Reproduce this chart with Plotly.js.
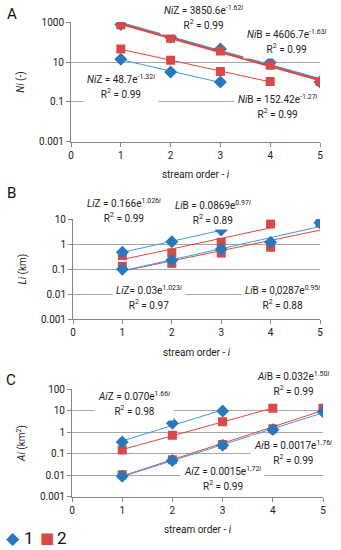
<!DOCTYPE html>
<html>
<head>
<meta charset="utf-8">
<script src="https://cdn.plot.ly/plotly-3.0.1.min.js"></script>
<style>html,body{margin:0;padding:0;background:#fff;}#chart{width:341px;height:550px;}</style>
</head>
<body>
<div id="chart"></div>
<script>
// ---- data ----
var orders = [1, 2, 3, 4, 5];

// Panel A: Ni (-)
var A_blueUpper = [780, 180, 45, 9.5, 1.0];
var A_redUpper  = [750, 160, 36, 7.0, 1.05];
var A_blueLower = [14, 3.2, 1.0];
var A_redLower  = [45, 12.5, 3.4, 1.05];

// Panel B: Li (km)
var B_blueUpper = [0.48, 1.26, 3.7];
var B_redUpper  = [0.35, 0.45, 1.2, 6.5];
var B_blueLower = [0.1, 0.23, 0.63, 1.2, 7.3];
var B_redLower  = [0.13, 0.17, 0.44, 0.76, 7.0];

// Panel C: Ai (km2)
var C_blueUpper = [0.35, 2.6, 9.8];
var C_redUpper  = [0.15, 0.72, 3.1, 13];
var C_blueLower = [0.009, 0.048, 0.25, 1.3, 9.0];
var C_redLower  = [0.0105, 0.052, 0.27, 1.45, 13];

var A_tickvals = [0.001, 0.1, 10, 1000];
var A_ticktext = ['0.001', '0.1', '10', '1000'];
var B_tickvals = [0.001, 0.01, 0.1, 1, 10];
var B_ticktext = ['0.001', '0.01', '0.1', '1', '10'];
var C_tickvals = [0.001, 0.01, 0.1, 1, 10, 100];
var C_ticktext = ['0.001', '0.01', '0.1', '1', '10', '100'];
var xTicks = [0, 1, 2, 3, 4, 5];

var legendNames = ['1', '2'];

// ---- styles ----
var BLUE_M = '#2878be', BLUE_L = '#3f9ad8';
var RED_M = '#d94a47', RED_L = '#e9433f';
var FONT = 'Roboto, Arial, sans-serif';

function W(px) { return px / 341; }
function H(py) { return 1 - py / 550; }

// least-squares exponential trendline (fit in log space)
function trend(vals) {
  var n = vals.length, xs = orders.slice(0, n);
  var ly = vals.map(function (v) { return Math.log(v); });
  var mx = xs.reduce(function (a, b) { return a + b; }, 0) / n;
  var my = ly.reduce(function (a, b) { return a + b; }, 0) / n;
  var sxy = 0, sxx = 0;
  for (var k = 0; k < n; k++) { sxy += (xs[k] - mx) * (ly[k] - my); sxx += (xs[k] - mx) * (xs[k] - mx); }
  var b = sxy / sxx, a = my - b * mx;
  return { x: xs, y: xs.map(function (x) { return Math.exp(a + b * x); }) };
}

var traces = [];
function addSeries(vals, xa, ya, isBlue, lw) {
  var t = trend(vals);
  traces.push({ x: t.x, y: t.y, xaxis: xa, yaxis: ya, mode: 'lines', showlegend: false, hoverinfo: 'skip',
    line: { color: isBlue ? BLUE_L : RED_L, width: lw } });
  traces.push({ x: orders.slice(0, vals.length), y: vals, xaxis: xa, yaxis: ya, mode: 'markers',
    name: isBlue ? legendNames[0] : legendNames[1], showlegend: false,
    marker: isBlue ? { symbol: 'diamond', size: 10, color: BLUE_M } : { symbol: 'square', size: 9, color: RED_M } });
}
addSeries(A_blueLower, 'x', 'y', true, 1);
addSeries(A_redLower, 'x', 'y', false, 1);
addSeries(A_blueUpper, 'x', 'y', true, 2.2);
addSeries(A_redUpper, 'x', 'y', false, 2.2);

addSeries(B_redUpper, 'x2', 'y2', false, 1);
addSeries(B_redLower, 'x2', 'y2', false, 1);
addSeries(B_blueUpper, 'x2', 'y2', true, 1);
addSeries(B_blueLower, 'x2', 'y2', true, 1);

addSeries(C_redUpper, 'x3', 'y3', false, 1);
addSeries(C_redLower, 'x3', 'y3', false, 1);
addSeries(C_blueUpper, 'x3', 'y3', true, 1);
addSeries(C_blueLower, 'x3', 'y3', true, 1);

function xaxis(dom, anchor) {
  return { domain: dom, anchor: anchor, range: [0, 5], tickvals: xTicks, showgrid: false, zeroline: false,
    showline: true, linecolor: '#868686', linewidth: 1, ticks: 'outside', ticklen: 4, tickcolor: '#868686',
    tickfont: { family: FONT, size: 10, color: '#222' }, fixedrange: true,
    title: { text: 'stream order - <i>i</i>', font: { family: FONT, size: 10, color: '#222' }, standoff: 11 } };
}
function yaxis(dom, anchor, range, tv, tt, title) {
  return { domain: dom, anchor: anchor, type: 'log', range: range, tickvals: tv, ticktext: tt,
    showgrid: true, gridcolor: '#a8a8a8', gridwidth: 1, zeroline: false,
    showline: true, linecolor: '#868686', linewidth: 1, ticks: 'outside', ticklen: 4, tickcolor: '#868686',
    tickfont: { family: FONT, size: 10, color: '#222' }, fixedrange: true,
    title: { text: title, font: { family: FONT, size: 10, color: '#222' }, standoff: 12 } };
}

function ann(l1, l2, cx, cy) {
  return { xref: 'paper', yref: 'paper', x: W(cx), y: H(cy), xanchor: 'center', yanchor: 'middle',
    text: '<span style="font-size:10px">' + l1 + '</span><br><span style="font-size:10px">' + l2 + '</span>',
    showarrow: false, font: { family: FONT, size: 11, color: '#222' }, bgcolor: '#ffffff', borderpad: 3, align: 'center' };
}
function lbl(text, cx, cy, size, color, family) {
  return { xref: 'paper', yref: 'paper', x: W(cx), y: H(cy), xanchor: 'center', yanchor: 'middle',
    text: text, showarrow: false, font: { family: family || FONT, size: size || 15, color: color || '#111' } };
}
var R2 = 'R<sup>2</sup> = ';

var annotations = [
  lbl('A', 12, 14), lbl('B', 11, 193), lbl('C', 11, 380),
  ann('<i>Ni</i>Z = 3850.6e<sup>-1.62<i>i</i></sup>', R2 + '0.99', 203, 18),
  ann('<i>Ni</i>B = 4606.7e<sup>-1.63<i>i</i></sup>', R2 + '0.99', 287, 41),
  ann('<i>Ni</i>Z = 48.7e<sup>-1.32<i>i</i></sup>', R2 + '0.99', 121, 86),
  ann('<i>Ni</i>B = 152.42e<sup>-1.27<i>i</i></sup>', R2 + '0.99', 278, 106),

  ann('<i>Li</i>Z = 0.166e<sup>1.026<i>i</i></sup>', R2 + '0.99', 124, 211),
  ann('<i>Li</i>B = 0.0869e<sup>0.97<i>i</i></sup>', R2 + '0.89', 213, 212),
  ann('<i>Li</i>Z= 0.03e<sup>1.023<i>i</i></sup>', R2 + '0.97', 149, 297),
  ann('<i>Li</i>B = 0,0287e<sup>0.95<i>i</i></sup>', R2 + '0.88', 282, 297),

  ann('<i>Ai</i>B = 0.032e<sup>1.50<i>i</i></sup>', R2 + '0.99', 293, 383),
  ann('<i>Ai</i>Z = 0.070e<sup>1.66<i>i</i></sup>', R2 + '0.98', 134, 403),
  ann('<i>Ai</i>B = 0.0017e<sup>1.76<i>i</i></sup>', R2 + '0.99', 293, 452),
  ann('<i>Ai</i>Z = 0.0015e<sup>1,72<i>i</i></sup>', R2 + '0.99', 222, 479),

  // legend
  lbl('\u25C6', 13, 538, 17, BLUE_M, 'DejaVu Sans'),
  lbl(legendNames[0], 29, 538, 17, '#111'),
  lbl('\u25A0', 47, 538, 15, RED_M, 'DejaVu Sans'),
  lbl(legendNames[1], 62, 538, 17, '#111')
];

var layout = {
  width: 341, height: 550, margin: { l: 0, r: 0, t: 0, b: 0 },
  paper_bgcolor: '#fff', plot_bgcolor: '#fff', showlegend: false,
  xaxis: xaxis([W(71), W(320)], 'y'),
  yaxis: yaxis([H(141.7), H(22.3)], 'x', [-3, 3], A_tickvals, A_ticktext, '<i>Ni</i> (-)'),
  xaxis2: xaxis([W(73), W(320)], 'y2'),
  yaxis2: yaxis([H(319), H(219.3)], 'x2', [-3, 1], B_tickvals, B_ticktext, '<i>Li</i> (km)'),
  xaxis3: xaxis([W(72), W(323)], 'y3'),
  yaxis3: yaxis([H(496.7), H(389.3)], 'x3', [-3, 2], C_tickvals, C_ticktext, '<i>Ai</i> (km<sup>2</sup>)'),
  annotations: annotations
};

Plotly.newPlot('chart', traces, layout, { staticPlot: true, displayModeBar: false });
</script>
</body>
</html>
